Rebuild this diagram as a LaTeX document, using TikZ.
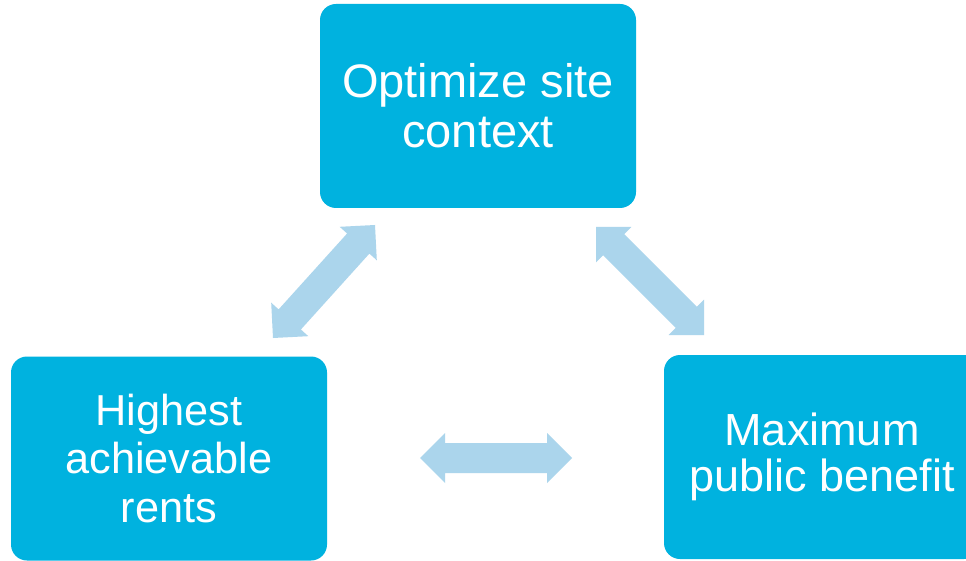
\documentclass[tikz,border=0pt]{standalone}
\usepackage{fontspec}
\setmainfont{Liberation Sans}
\usetikzlibrary{calc}
\definecolor{boxblue}{HTML}{00B2DF}
\definecolor{arrowblue}{HTML}{ABD5EC}
% filled double-headed block arrow between two named points
\newcommand\dblarrowfill[2]{%
  \path ($(#1)!25pt!(#2)$) coordinate (hA) ($(#2)!25pt!(#1)$) coordinate (hB);
  \fill[arrowblue] (#1) -- ($(hA)!25pt!90:(#2)$) -- ($(hA)!15pt!90:(#2)$)
    -- ($(hB)!15pt!-90:(#1)$) -- ($(hB)!25pt!-90:(#1)$) -- (#2)
    -- ($(hB)!25pt!90:(#1)$) -- ($(hB)!15pt!90:(#1)$)
    -- ($(hA)!15pt!-90:(#2)$) -- ($(hA)!25pt!-90:(#2)$) -- cycle;}
\begin{document}
\begin{tikzpicture}[x=1pt,y=-1pt,
  goalbox/.style={fill=boxblue, rounded corners=16pt, minimum width=316pt,
    minimum height=204pt, inner sep=0pt, align=center, text=white}]
\clip (0,0) rectangle (966,561);
\useasboundingbox (0,0) rectangle (966,561);
\fill[white] (0,0) rectangle (966,561);

\node[goalbox, font=\fontsize{47}{50}\selectfont] (site) at (478,106)
  {Optimize site\\context};
\node[goalbox, font=\fontsize{43.3}{48.5}\selectfont] (rents) at (169,458.5)
  {Highest\\achievable\\rents};
\node[goalbox, font=\fontsize{45}{46.5}\selectfont] (benefit) at (822,457)
  {Maximum\\public benefit};

% arrow end points between the boxes
\coordinate (a1s) at (273,338);
\coordinate (a1e) at (375,225);
\coordinate (a2s) at (596,227);
\coordinate (a2e) at (704,335);
\coordinate (a3s) at (420,458);
\coordinate (a3e) at (572,458);

\dblarrowfill{a1s}{a1e}
\dblarrowfill{a2s}{a2e}
\dblarrowfill{a3s}{a3e}
\end{tikzpicture}
\end{document}
